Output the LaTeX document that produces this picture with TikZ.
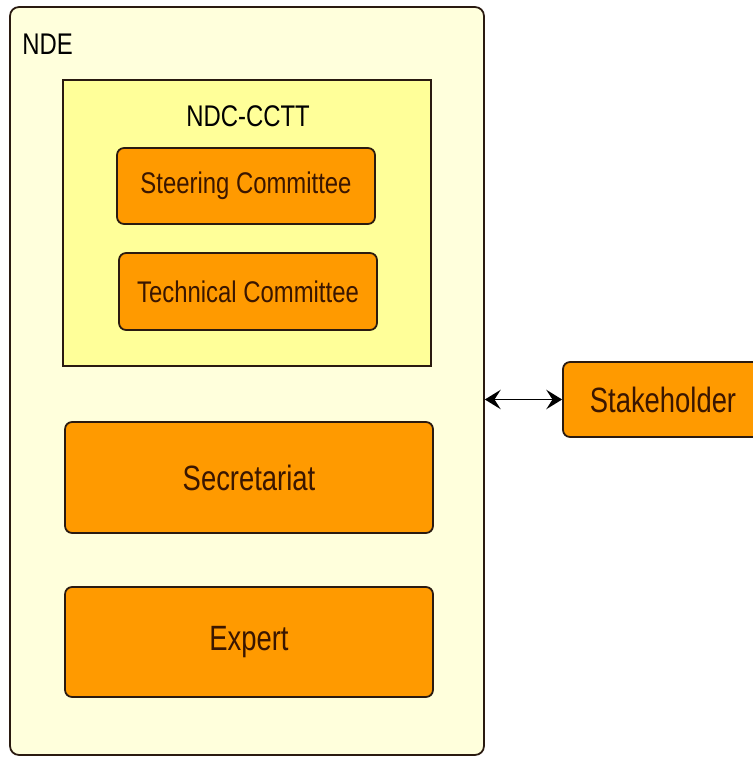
\documentclass[tikz,border=0pt]{standalone}
\usepackage{xcolor}
\usepackage{tikz}
\usepackage{fontspec}
\newfontfamily\diagfont{Liberation Sans}[FakeStretch=0.8]
\newfontfamily\bigfont{Liberation Sans}[FakeStretch=0.78]
\usetikzlibrary{arrows.meta,positioning,calc}
\definecolor{ndefill}{HTML}{FFFFDC}
\definecolor{cctfill}{HTML}{FFFF99}
\definecolor{orgfill}{HTML}{FF9A00}
\definecolor{orgtext}{HTML}{3A1600}
\definecolor{edge}{HTML}{2A1A10}

\begin{document}
\begin{tikzpicture}[x=0.02cm, y=-0.02cm,
  frame/.style={rectangle, draw=edge, line width=1pt, fill=#1, inner sep=0pt},
  box/.style={rectangle, rounded corners=4pt, draw=edge, line width=1pt, fill=orgfill,
              text=orgtext, inner sep=0pt},
  small/.style={font=\diagfont\fontsize{17}{17}\selectfont},
  large/.style={font=\bigfont\fontsize{20}{20}\selectfont},
  arr/.style={{Stealth[length=9pt,width=11pt,inset=3.5pt]}-{Stealth[length=9pt,width=11pt,inset=3.5pt]}, line width=1.1pt}]
  \useasboundingbox (0,0) rectangle (752,757);
  % NDE frame
  \node[frame=ndefill, rounded corners=5pt, minimum width=9.48cm, minimum height=14.96cm] (nde) at (247,381) {};
  \node[small, anchor=north west, inner sep=0pt] (ndelbl) at (22,34) {NDE};
  % NDC-CCTT
  \node[frame=cctfill, minimum width=7.36cm, minimum height=5.72cm] (cctt) at (247,223) {};
  \node[small, inner sep=0pt] (cctlbl) at (248,116) {NDC-CCTT};
  \node[box, small, minimum width=5.16cm, minimum height=1.52cm] (steer) at (246,186) {Steering Committee};
  \node[box, small, minimum width=5.16cm, minimum height=1.54cm] (tech) at (248,291.5) {Technical Committee};
  % Secretariat and Expert
  \node[box, large, minimum width=7.36cm, minimum height=2.22cm] (secr) at (249,477.5) {Secretariat};
  \node[box, large, minimum width=7.36cm, minimum height=2.2cm] (expert) at (249,642) {Expert};
  % Stakeholder
  \node[box, large, minimum width=4.0cm, minimum height=1.5cm] (stake) at (663,399.5) {Stakeholder};
  % Arrow
  \draw[arr] (stake.west -| nde.east) -- (stake.west);
\end{tikzpicture}
\end{document}
